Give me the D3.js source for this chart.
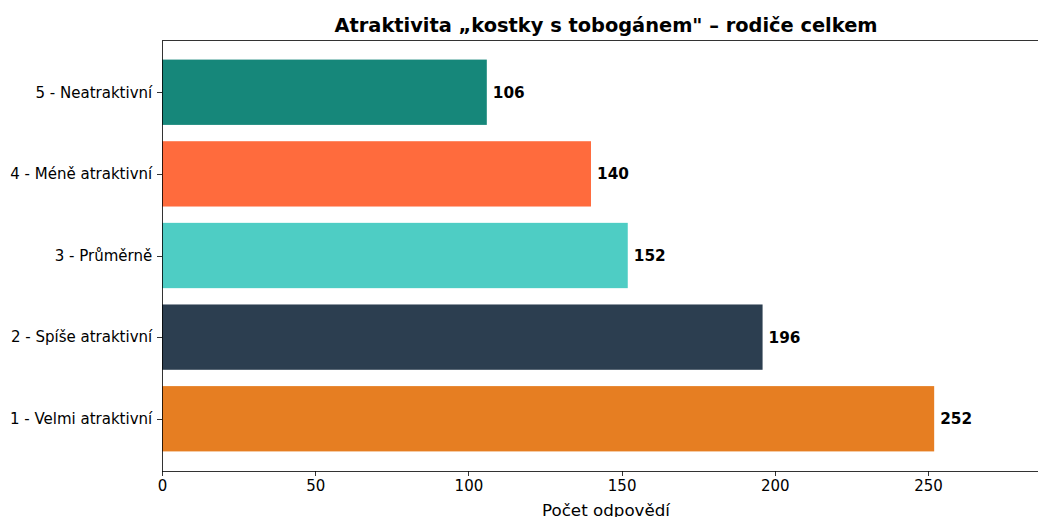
<!DOCTYPE html>
<html lang="cs">
<head>
<meta charset="utf-8">
<title>Atraktivita kostky s tobogánem</title>
<script src="https://cdn.jsdelivr.net/npm/d3@7"></script>
<style>
  body { margin: 0; background: #fff; overflow: hidden; }
  svg { display: block; font-family: "DejaVu Sans", sans-serif; }
  .axis path, .axis line { stroke: #000; stroke-width: 0.8; shape-rendering: crispEdges; }
  .axis text { font-size: 15px; fill: #000; font-family: "DejaVu Sans", sans-serif; }
</style>
</head>
<body>
<script>
var categories = ["1 - Velmi atraktivní", "2 - Spíše atraktivní", "3 - Průměrně", "4 - Méně atraktivní", "5 - Neatraktivní"];
var counts = [252, 196, 152, 140, 106];
var colors = ["#E67E22", "#2C3E50", "#4ECDC4", "#FF6B3D", "#16877A"];
var xTicks = [0, 50, 100, 150, 200, 250];

var w = 1038, h = 517;
// plot area (right edge runs past the window, as in the original)
var plotLeft = 162, plotRight = 1050, plotTop = 40, plotBottom = 471;

var svg = d3.select("body").append("svg")
  .attr("width", w)
  .attr("height", h);

var xScale = d3.scaleLinear()
  .domain([0, 289.8])
  .range([plotLeft, plotRight]);

// category i sits at y=i, bar height 0.8, 5% margins
var yScale = d3.scaleLinear()
  .domain([-0.64, categories.length - 1 + 0.64])
  .range([plotBottom, plotTop]);

var barH = yScale(0) - yScale(0.8);

svg.selectAll("rect.bar")
  .data(counts)
  .enter()
  .append("rect")
  .attr("class", "bar")
  .attr("x", xScale(0))
  .attr("y", (d, i) => yScale(i + 0.4))
  .attr("width", d => xScale(d) - xScale(0))
  .attr("height", barH)
  .attr("fill", (d, i) => colors[i]);

// value labels
svg.selectAll("text.val")
  .data(counts)
  .enter()
  .append("text")
  .attr("class", "val")
  .attr("x", d => xScale(d) + 6)
  .attr("y", (d, i) => yScale(i))
  .attr("dy", "0.36em")
  .attr("font-size", "15.3px")
  .attr("font-weight", "bold")
  .text(d => d);

// axes
var xAxis = d3.axisBottom(xScale)
  .tickValues(xTicks)
  .tickSize(4.9)
  .tickPadding(4.9)
  .tickSizeOuter(0);

svg.append("g")
  .attr("class", "axis")
  .attr("transform", "translate(0," + plotBottom + ")")
  .call(xAxis);

var yAxis = d3.axisLeft(yScale)
  .tickValues(d3.range(categories.length))
  .tickFormat(i => categories[i])
  .tickSize(4.9)
  .tickPadding(4.9)
  .tickSizeOuter(0);

svg.append("g")
  .attr("class", "axis")
  .attr("transform", "translate(" + plotLeft + ",0)")
  .call(yAxis);

// top spine
svg.append("line")
  .attr("x1", plotLeft).attr("x2", plotRight)
  .attr("y1", plotTop).attr("y2", plotTop)
  .attr("stroke", "#000")
  .attr("stroke-width", 0.8)
  .attr("shape-rendering", "crispEdges");

var midX = (plotLeft + plotRight) / 2;

// title
svg.append("text")
  .attr("x", midX)
  .attr("y", 32)
  .attr("text-anchor", "middle")
  .attr("font-size", "19.4px")
  .attr("font-weight", "bold")
  .text("Atraktivita „kostky s tobogánem\" – rodiče celkem");

// x label
svg.append("text")
  .attr("x", midX)
  .attr("y", 516)
  .attr("text-anchor", "middle")
  .attr("font-size", "16.7px")
  .text("Počet odpovědí");
</script>
</body>
</html>
